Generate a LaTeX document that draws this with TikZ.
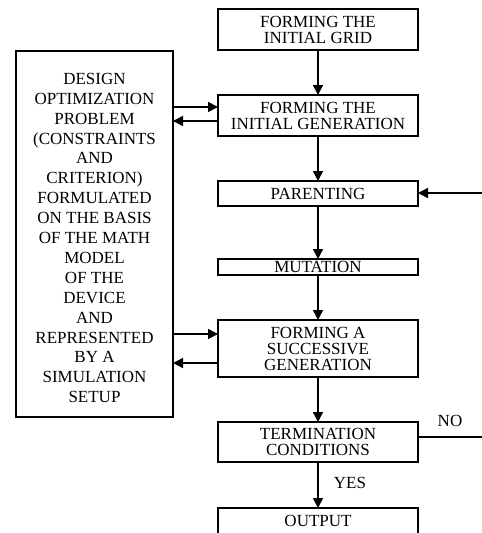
\documentclass[tikz,border=0pt]{standalone}
\usepackage{fontspec}
\setmainfont{Liberation Serif}
\usetikzlibrary{arrows.meta}
\begin{document}
\begin{tikzpicture}[x=1pt,y=-1pt,
  every node/.style={inner sep=0pt,outer sep=0pt},
  box/.style={draw,line width=1.5pt,align=center,minimum width=200pt,
    font=\fontsize{17}{16}\selectfont},
  arr/.style={line width=1.5pt,-{Triangle[length=10pt,width=10pt]}},
  ln/.style={line width=1.5pt},
  lbl/.style={font=\fontsize{17}{16}\selectfont}]
\useasboundingbox (0,0) rectangle (482,533);
\clip (0,0) rectangle (482,533);
\node[box,minimum height=41pt] (grid) at (318,29.5) {FORMING THE\\INITIAL GRID};
\node[box,minimum height=41pt] (igen) at (318,115.5) {FORMING THE\\INITIAL GENERATION};
\node[box,minimum height=25pt] (par) at (318,193.5) {PARENTING};
\node[box,minimum height=16pt] (mut) at (318,267) {MUTATION};
\node[box,minimum height=57pt] (sgen) at (318,348.5) {FORMING A\\SUCCESSIVE\\GENERATION};
\node[box,minimum height=40pt] (term) at (318,442) {TERMINATION\\CONDITIONS};
\node[box,minimum height=40pt,text depth=0pt] (out) at (318,528) {};
\node[lbl] (outt) at (318,521) {OUTPUT};
\node[draw,line width=1.5pt,minimum width=157pt,minimum height=366pt] (left) at (94.5,234) {};
\node[align=center,font=\fontsize{17}{19.9}\selectfont] (lt) at (94.5,238) {DESIGN\\OPTIMIZATION\\PROBLEM\\(CONSTRAINTS\\AND\\CRITERION)\\FORMULATED\\ON THE BASIS\\OF THE MATH\\MODEL\\OF THE\\DEVICE\\AND\\REPRESENTED\\BY A\\SIMULATION\\SETUP};
\coordinate (rin) at (482,193);
\coordinate (rno) at (482,437);
\draw[arr] (grid) -- (igen);
\draw[arr] (igen) -- (par);
\draw[arr] (par) -- (mut);
\draw[arr] (mut) -- (sgen);
\draw[arr] (sgen) -- (term);
\draw[arr] (term) -- (out);
\draw[arr] (left.east |- 0,107) -- (igen.west |- 0,107);
\draw[arr] (igen.west |- 0,121) -- (left.east |- 0,121);
\draw[arr] (left.east |- 0,334) -- (sgen.west |- 0,334);
\draw[arr] (sgen.west |- 0,363) -- (left.east |- 0,363);
\draw[arr] (rin) -- (par.east |- rin);
\draw[ln] (term.east |- rno) -- (rno);
\node[lbl] (no) at (450,421) {NO};
\node[lbl] (yes) at (350,483) {YES};
\end{tikzpicture}
\end{document}
